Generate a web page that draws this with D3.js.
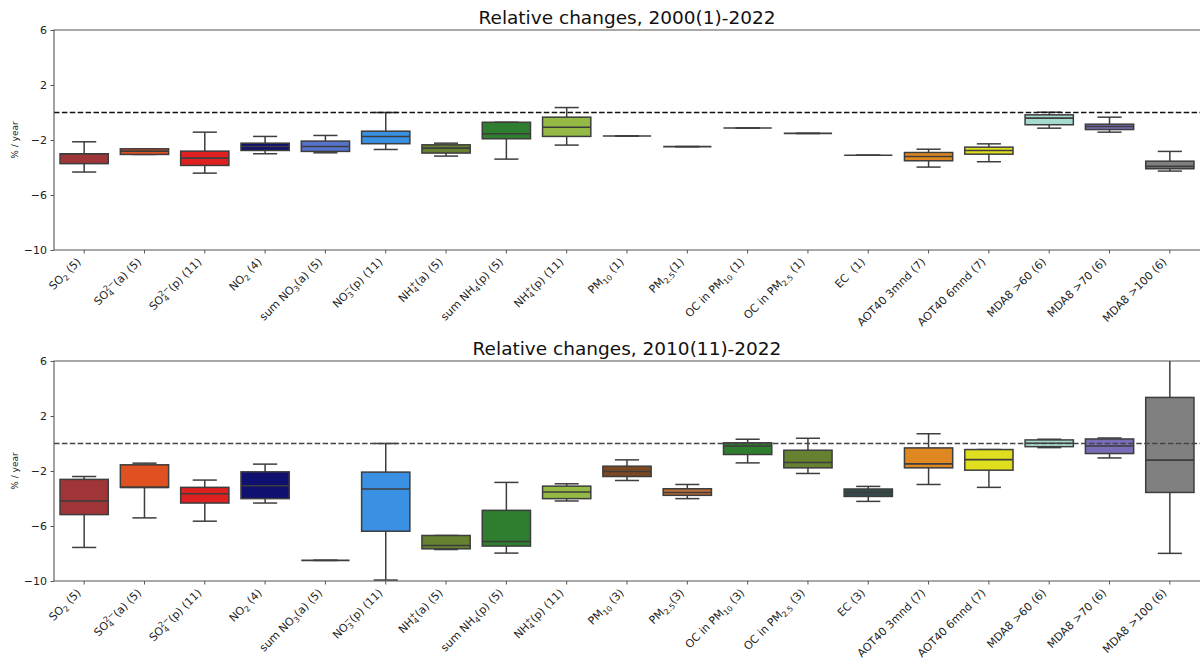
<!DOCTYPE html>
<html>
<head>
<meta charset="utf-8">
<script src="https://cdn.jsdelivr.net/npm/d3@7"></script>
<style>
  body { margin: 0; background: #fff; }
  svg { display: block; font-family: "DejaVu Sans", sans-serif; }
</style>
</head>
<body>
<svg id="chart" width="1200" height="666"></svg>
<script>
// Category labels (mini markup: _{..} subscript, ^{..} superscript)
const labels2000 = [
  "SO_{2} (5)", "SO_{4}^{2−}(a) (5)", "SO_{4}^{2−}(p) (11)", "NO_{2} (4)", "sum NO_{3}(a) (5)",
  "NO_{3}^{−}(p) (11)", "NH_{4}^{+}(a) (5)", "sum NH_{4}(p) (5)", "NH_{4}^{+}(p) (11)",
  "PM_{10} (1)", "PM_{2.5}(1)", "OC in PM_{10} (1)", "OC in PM_{2.5} (1)", "EC  (1)",
  "AOT40 3mnd (7)", "AOT40 6mnd (7)", "MDA8 >60 (6)", "MDA8 >70 (6)", "MDA8 >100 (6)"
];
const labels2010 = [
  "SO_{2} (5)", "SO_{4}^{2−}(a) (5)", "SO_{4}^{2−}(p) (11)", "NO_{2} (4)", "sum NO_{3}(a) (5)",
  "NO_{3}^{−}(p) (11)", "NH_{4}^{+}(a) (5)", "sum NH_{4}(p) (5)", "NH_{4}^{+}(p) (11)",
  "PM_{10} (3)", "PM_{2.5}(3)", "OC in PM_{10} (3)", "OC in PM_{2.5} (3)", "EC (3)",
  "AOT40 3mnd (7)", "AOT40 6mnd (7)", "MDA8 >60 (6)", "MDA8 >70 (6)", "MDA8 >100 (6)"
];

const boxColors = [
  "#a03538", "#df5120", "#df2020", "#101070", "#5573cd", "#3a90e3", "#668130", "#2f7e2f", "#94ba45",
  "#7c4822", "#bc6d35", "#2f7e2f", "#668130", "#334b4b", "#df8720", "#dfdf20", "#a8dbd0", "#7a6db8", "#808080"
];

const yTicks = [6, 2, -2, -6, -10];

// Relative change statistics (% / year), 2000-2022
const low2000  = [-4.33, -3.05, -4.41, -3.00, -2.93, -2.69, -3.17, -3.39, -2.37, -1.71, -2.48, -1.13, -1.52, -3.11, -3.97, -3.58, -1.14, -1.43, -4.26];
const q1_2000  = [-3.72, -3.05, -3.85, -2.76, -2.83, -2.27, -2.95, -1.91, -1.74, -1.71, -2.48, -1.13, -1.52, -3.11, -3.51, -3.03, -0.89, -1.24, -4.09];
const med2000  = [-3.00, -2.81, -3.32, -2.47, -2.47, -1.74, -2.59, -1.55, -1.07, -1.71, -2.48, -1.13, -1.52, -3.11, -3.20, -2.76, -0.41, -1.02, -3.92];
const q3_2000  = [-3.00, -2.64, -2.81, -2.23, -2.08, -1.36, -2.35, -0.71, -0.34, -1.71, -2.48, -1.13, -1.52, -3.11, -2.91, -2.52, -0.17, -0.85, -3.54];
const high2000 = [-2.13, -2.64, -1.43, -1.74, -1.67,  0.00, -2.23, -0.71,  0.36, -1.71, -2.48, -1.13, -1.52, -3.11, -2.67, -2.28,  0.02, -0.34, -2.83];

// Relative change statistics (% / year), 2010-2022
const low2010  = [-7.56, -5.41, -5.65, -4.33, -8.50, -9.93, -7.71, -7.97, -4.18, -2.69, -4.01, -1.41, -2.18, -4.21, -2.98, -3.19, -0.30, -1.05, -7.99];
const q1_2010  = [-5.17, -3.19, -4.33, -4.01, -8.50, -6.38, -7.66, -7.46, -4.01, -2.40, -3.77, -0.80, -1.77, -3.85, -1.77, -1.94, -0.23, -0.73, -3.56];
const med2010  = [-4.18, -3.19, -3.65, -3.07, -8.50, -3.31, -7.42, -7.13, -3.53, -2.04, -3.56, -0.18, -1.38, -3.56, -1.48, -1.17,  0.02, -0.18, -1.21];
const q3_2010  = [-2.61, -1.55, -3.19, -2.06, -8.50, -2.08, -6.69, -4.86, -3.10, -1.65, -3.29,  0.05, -0.49, -3.31, -0.32, -0.44,  0.26,  0.33,  3.35];
const high2010 = [-2.40, -1.43, -2.66, -1.50, -8.50,  0.00, -6.69, -2.83, -2.93, -1.19, -2.98,  0.31,  0.38, -3.12,  0.71, -0.44,  0.31,  0.40,  6.40];

const panels = [
  { id: "p2000", title: "Relative changes, 2000(1)-2022", labels: labels2000,
    low: low2000, q1: q1_2000, med: med2000, q3: q3_2000, high: high2000,
    top: 30, bottom: 250, zeroColor: "#111" },
  { id: "p2010", title: "Relative changes, 2010(11)-2022", labels: labels2010,
    low: low2010, q1: q1_2010, med: med2010, q3: q3_2010, high: high2010,
    top: 361, bottom: 581, zeroColor: "#444" }
];

const svg = d3.select("#chart");
const left = 54, right = 1200;
const edge = "#3d3d3d";
const spine = "#555";

// Render a label with sub/superscripts into a text element
function renderLabel(textSel, str) {
  const parts = [];
  const re = /(_\{[^}]*\}|\^\{[^}]*\})/g;
  let last = 0, m;
  while ((m = re.exec(str)) !== null) {
    if (m.index > last) parts.push({ t: str.slice(last, m.index), k: "n" });
    parts.push({ t: m[0].slice(2, -1), k: m[0][0] === "_" ? "sub" : "sup" });
    last = re.lastIndex;
  }
  if (last < str.length) parts.push({ t: str.slice(last), k: "n" });
  const shift = { n: 0, sub: 2.7, sup: -4.4 };
  let cur = 0, prev = null;
  parts.forEach(p => {
    const ts = textSel.append("tspan").text(p.t);
    const target = shift[p.k];
    ts.attr("dy", target - cur);
    cur = target;
    if (p.k !== "n") ts.attr("font-size", 7.8);
    if (p.k === "sup" && prev && prev.k === "sub") {
      ts.attr("dx", -(prev.t.length * 5));
    }
    prev = p;
  });
}

panels.forEach((P, pi) => {
  const g = svg.append("g").attr("id", P.id);
  const x = d3.scaleBand().domain(d3.range(P.labels.length)).range([left, right]).paddingInner(0).paddingOuter(0);
  const y = d3.scaleLinear().domain([-10, 6]).range([P.bottom, P.top]);
  const bw = x.bandwidth();
  const boxW = bw * 0.8, capW = bw * 0.4;

  const clipId = "clip" + pi;
  svg.append("defs").append("clipPath").attr("id", clipId)
    .append("rect").attr("x", left).attr("y", P.top).attr("width", right - left).attr("height", P.bottom - P.top);

  const plot = g.append("g").attr("clip-path", `url(#${clipId})`);

  const items = P.labels.map((l, i) => ({
    i, low: P.low[i], q1: P.q1[i], med: P.med[i], q3: P.q3[i], high: P.high[i], color: boxColors[i]
  }));

  const box = plot.selectAll("g.box").data(items).join("g").attr("class", "box")
    .attr("transform", d => `translate(${x(d.i) + bw / 2},0)`);

  // whiskers
  box.append("line").attr("x1", 0).attr("x2", 0)
    .attr("y1", d => y(d.q3)).attr("y2", d => y(d.high))
    .attr("stroke", edge).attr("stroke-width", 1.5);
  box.append("line").attr("x1", 0).attr("x2", 0)
    .attr("y1", d => y(d.q1)).attr("y2", d => y(d.low))
    .attr("stroke", edge).attr("stroke-width", 1.5);
  // caps
  box.append("line").attr("x1", -capW / 2).attr("x2", capW / 2)
    .attr("y1", d => y(d.high)).attr("y2", d => y(d.high))
    .attr("stroke", edge).attr("stroke-width", 1.5);
  box.append("line").attr("x1", -capW / 2).attr("x2", capW / 2)
    .attr("y1", d => y(d.low)).attr("y2", d => y(d.low))
    .attr("stroke", edge).attr("stroke-width", 1.5);
  // box
  box.append("rect").attr("x", -boxW / 2).attr("width", boxW)
    .attr("y", d => y(d.q3)).attr("height", d => y(d.q1) - y(d.q3))
    .attr("fill", d => d.color).attr("stroke", edge).attr("stroke-width", 1.5);
  // median
  box.append("line").attr("x1", -boxW / 2).attr("x2", boxW / 2)
    .attr("y1", d => y(d.med)).attr("y2", d => y(d.med))
    .attr("stroke", edge).attr("stroke-width", 1.6);

  // zero reference line
  plot.append("line").attr("x1", left).attr("x2", right)
    .attr("y1", y(0)).attr("y2", y(0))
    .attr("stroke", P.zeroColor).attr("stroke-width", 1.4).attr("stroke-dasharray", "5.5,2.4");

  // spines
  g.append("path")
    .attr("d", `M${right + 1},${P.top}H${left}V${P.bottom}H${right + 1}`)
    .attr("fill", "none").attr("stroke", spine).attr("stroke-width", 1.1);

  // y axis
  const yAxis = d3.axisLeft(y).tickValues(yTicks).tickSize(3.5).tickPadding(3.5);
  const ya = g.append("g").attr("transform", `translate(${left},0)`).call(yAxis);
  ya.select(".domain").remove();
  ya.selectAll(".tick line").attr("stroke", spine);
  ya.selectAll(".tick text").attr("font-size", 11).attr("fill", "#222")
    .attr("font-family", '"DejaVu Sans", sans-serif');

  // x axis ticks
  const xa = g.append("g").attr("transform", `translate(0,${P.bottom})`)
    .call(d3.axisBottom(x).tickSize(3.5).tickFormat(""));
  xa.select(".domain").remove();
  xa.selectAll(".tick line").attr("stroke", spine);

  // x labels rotated 45°
  P.labels.forEach((lab, i) => {
    const cx = x(i) + bw / 2 - 2.5;
    const cy = P.bottom + 12.5;
    const t = g.append("text")
      .attr("transform", `translate(${cx},${cy}) rotate(-45)`)
      .attr("text-anchor", "end")
      .attr("font-size", 11)
      .attr("fill", "#222")
      .style("white-space", "pre");
    renderLabel(t, lab);
  });

  // y label
  g.append("text")
    .attr("transform", `translate(18,${(P.top + P.bottom) / 2}) rotate(-90)`)
    .attr("text-anchor", "middle")
    .attr("font-size", 9)
    .attr("fill", "#222")
    .text("% / year");

  // title
  g.append("text")
    .attr("x", (left + right) / 2).attr("y", P.top - 6)
    .attr("text-anchor", "middle")
    .attr("font-size", 18.5)
    .attr("fill", "#111")
    .text(P.title);
});
</script>
</body>
</html>
